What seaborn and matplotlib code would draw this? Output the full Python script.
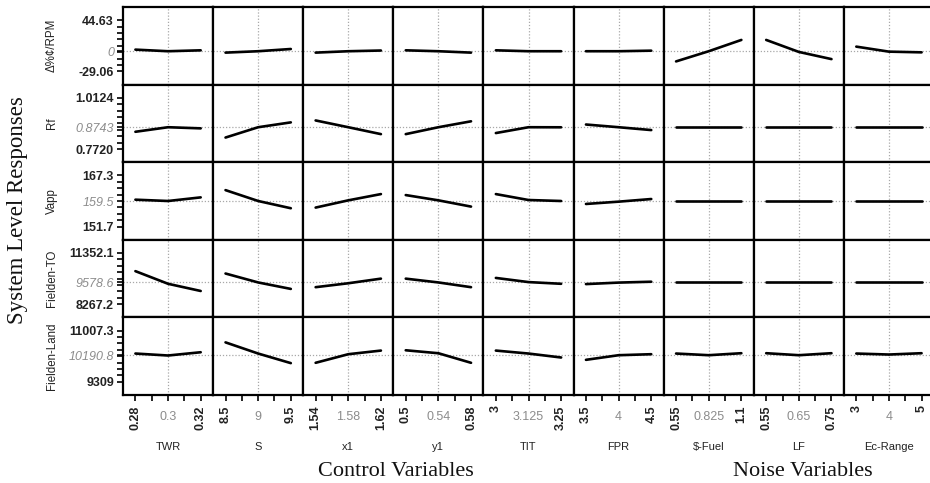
import numpy as np
import pandas as pd
import matplotlib
matplotlib.use("Agg")
import matplotlib.pyplot as plt
import seaborn as sns

# ---------------- data ----------------
factors = ["TWR", "S", "x1", "y1", "TIT", "FPR", "$-Fuel", "LF", "Ec-Range"]
x_low = [0.28, 8.5, 1.54, 0.5, 3.0, 3.5, 0.55, 0.55, 3.0]
x_mid = [0.3, 9.0, 1.58, 0.54, 3.125, 4.0, 0.825, 0.65, 4.0]
x_high = [0.32, 9.5, 1.62, 0.58, 3.25, 4.5, 1.1, 0.75, 5.0]
x_low_lbl = ["0.28", "8.5", "1.54", "0.5", "3", "3.5", "0.55", "0.55", "3"]
x_mid_lbl = ["0.3", "9", "1.58", "0.54", "3.125", "4", "0.825", "0.65", "4"]
x_high_lbl = ["0.32", "9.5", "1.62", "0.58", "3.25", "4.5", "1.1", "0.75", "5"]

responses = ["Δ%¢/RPM", "Rf", "Vapp", "Fielden-TO", "Fielden-Land"]
y_low = [-29.06, 0.7720, 151.7, 8267.2, 9309.0]
y_center = [0.0, 0.8743, 159.5, 9578.6, 10190.8]
y_high = [44.63, 1.0124, 167.3, 11352.1, 11007.3]
y_low_lbl = ["-29.06", "0.7720", "151.7", "8267.2", "9309"]
y_center_lbl = ["0", "0.8743", "159.5", "9578.6", "10190.8"]
y_high_lbl = ["44.63", "1.0124", "167.3", "11352.1", "11007.3"]

# profile values at (low, mid, high) of each factor
rpm = [[2.3, 0.0, 1.3], [-2.0, 0.0, 3.2], [-2.0, 0.0, 1.0], [1.3, 0.0, -2.0],
       [1.3, 0.0, 0.0], [0.0, 0.0, 0.8], [-14.6, 0.0, 16.2], [16.2, -1.0, -11.3],
       [6.6, -0.6, -1.6]]
rf = [[0.853, 0.8743, 0.869], [0.826, 0.8743, 0.897], [0.906, 0.8743, 0.842],
      [0.842, 0.8743, 0.902], [0.847, 0.8743, 0.874], [0.887, 0.8743, 0.861],
      [0.8743, 0.8743, 0.8743], [0.8743, 0.8743, 0.8743], [0.8743, 0.8743, 0.8743]]
vapp = [[159.9, 159.5, 160.6], [162.8, 159.5, 157.3], [157.5, 159.7, 161.6],
        [161.3, 159.7, 157.8], [161.6, 159.8, 159.5], [158.6, 159.3, 160.1],
        [159.5, 159.5, 159.5], [159.5, 159.5, 159.5], [159.5, 159.5, 159.5]]
fto = [[10257, 9498, 9066], [10115, 9578.6, 9190], [9294, 9530, 9807],
       [9807, 9578.6, 9294], [9850, 9600, 9498], [9480, 9570, 9622],
       [9578.6, 9578.6, 9578.6], [9578.6, 9578.6, 9578.6], [9578.6, 9578.6, 9578.6]]
fland = [[10246, 10181, 10289], [10615, 10246, 9929], [9940, 10224, 10344],
         [10354, 10256, 9940], [10344, 10246, 10115], [10038, 10191, 10224],
         [10246, 10191, 10257], [10257, 10191, 10257], [10246, 10213, 10257]]
profiles = [rpm, rf, vapp, fto, fland]

rows = []
for r, resp in enumerate(responses):
    for c, fac in enumerate(factors):
        for xv, yv in zip([x_low[c], x_mid[c], x_high[c]], profiles[r][c]):
            rows.append({"response": resp, "factor": fac, "x": xv, "y": yv})
df = pd.DataFrame(rows)

# ---------------- figure ----------------
sns.set_theme(style="white")
plt.rcParams['font.family'] = ['Liberation Sans', 'DejaVu Sans']

W, H = 930, 483
fig = plt.figure(figsize=(W / 100, H / 100), dpi=100)
L, R, T, B = 123, 934, 7, 395
gs = fig.add_gridspec(5, 9, left=L / W, right=R / W, top=1 - T / H, bottom=1 - B / H,
                      wspace=0, hspace=0)

XM = 0.19
YM = 0.255
grey = "#8c8c8c"

for r, resp in enumerate(responses):
    for c, fac in enumerate(factors):
        ax = fig.add_subplot(gs[r, c])
        sub = df[(df.response == resp) & (df.factor == fac)]
        xr = x_high[c] - x_low[c]
        yr = y_high[r] - y_low[r]
        ax.axvline(x_mid[c], color="#a8a8a8", ls=(0, (1, 1.5)), lw=0.9, zorder=1)
        ax.axhline(y_center[r], color="#a8a8a8", ls=(0, (1, 1.5)), lw=0.9, zorder=1)
        sns.lineplot(data=sub, x="x", y="y", ax=ax, color="black", lw=1.9,
                     estimator=None, sort=True, zorder=3)
        ax.set_xlim(x_low[c] - XM * xr, x_high[c] + XM * xr)
        ax.set_ylim(y_low[r] - YM * yr, y_high[r] + YM * yr)
        ax.set_xlabel("")
        ax.set_ylabel("")
        for s in ax.spines.values():
            s.set_color("black")
            s.set_linewidth(1.6)
        # y ticks
        if c == 0:
            ax.set_yticks([y_low[r], y_center[r], y_high[r]])
            ax.set_yticklabels([y_low_lbl[r], y_center_lbl[r], y_high_lbl[r]])
            ax.set_yticks([y_low[r] + k * yr / 8 for k in range(1, 8)], minor=True)
            ax.tick_params(axis="y", which="both", left=True, direction="out",
                           length=4.5, width=1.2, color="black", pad=2)
            labs = ax.get_yticklabels()
            for i, lab in enumerate(labs):
                lab.set_fontsize(9)
                if i == 1:
                    lab.set_color(grey)
                    lab.set_fontstyle("italic")
                else:
                    lab.set_fontweight("bold")
                    lab.set_color("#222222")
        else:
            ax.set_yticks([])
        # x ticks
        if r == len(responses) - 1:
            ax.set_xticks([x_low[c], x_mid[c], x_high[c]])
            ax.set_xticklabels([x_low_lbl[c], x_mid_lbl[c], x_high_lbl[c]])
            ax.set_xticks([x_low[c] + xr / 4, x_low[c] + 3 * xr / 4], minor=True)
            ax.tick_params(axis="x", which="both", bottom=True, direction="out",
                           length=4.5, width=1.2, color="black", pad=3)
            labs = ax.get_xticklabels()
            for i, lab in enumerate(labs):
                lab.set_fontsize(9)
                if i == 1:
                    lab.set_rotation(0)
                    lab.set_color(grey)
                    lab.set_y(-0.07)
                else:
                    lab.set_rotation(90)
                    lab.set_fontweight("bold")
                    lab.set_color("#222222")
        else:
            ax.set_xticks([])

# response names
row_h = (B - T) / 5
for r, resp in enumerate(responses):
    yc = T + row_h * (r + 0.5)
    fig.text(52 / W, 1 - yc / H, resp, rotation=90, ha="center", va="center",
             fontsize=8.3, color="#222222")

# factor names
col_w = (R - L) / 9
for c, fac in enumerate(factors):
    xc = L + col_w * (c + 0.5)
    fig.text(xc / W, 1 - 447 / H, fac.replace("$", r"\$"), ha="center", va="center",
             fontsize=8, color="#222222")

serif = ["Liberation Serif", "DejaVu Serif"]
fig.text(18 / W, 1 - 210 / H, "System Level Responses", rotation=90, ha="center",
         va="center", fontsize=16.5, family=serif, color="#111111")
fig.text(396 / W, 1 - 472 / H, "Control Variables", ha="center", va="center",
         fontsize=16, family=serif, color="#111111")
fig.text(803 / W, 1 - 472 / H, "Noise Variables", ha="center", va="center",
         fontsize=16, family=serif, color="#111111")

fig.savefig("out.png", dpi=100, facecolor="white")
